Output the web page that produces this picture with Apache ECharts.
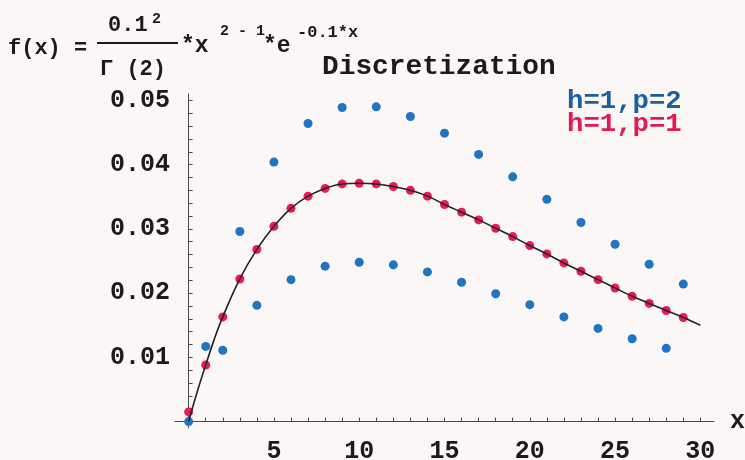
<!DOCTYPE html>
<html>
<head>
<meta charset="utf-8">
<script src="https://cdn.jsdelivr.net/npm/echarts@6/dist/echarts.min.js"></script>
<style>
html, body { margin: 0; padding: 0; background: #fbf7f6; }
#chart { width: 745px; height: 460px; }
</style>
</head>
<body>
<div id="chart"></div>
<script>
// discrete points at integer x
const xValues = [0, 1, 2, 3, 4, 5, 6, 7, 8, 9, 10, 11, 12, 13, 14, 15, 16, 17, 18, 19, 20, 21, 22, 23, 24, 25, 26, 27, 28, 29]
// h=1, p=2 (blue, alternating)
const blueValues = [0, 0.0117, 0.0111, 0.0296, 0.0181, 0.0404, 0.0221, 0.0464, 0.0242, 0.0489,
  0.0248, 0.0490, 0.0244, 0.0475, 0.0233, 0.0449, 0.0217, 0.0416, 0.0199, 0.0381,
  0.0182, 0.0346, 0.0163, 0.0310, 0.0145, 0.0276, 0.0129, 0.0245, 0.0114, 0.0214]
// h=1, p=1 (red)
const redValues = [0.0015, 0.0088, 0.0163, 0.0222, 0.0268, 0.0304, 0.0332, 0.0351, 0.0363, 0.0370,
  0.0371, 0.0370, 0.0366, 0.0360, 0.0351, 0.0338, 0.0326, 0.0314, 0.0301, 0.0288,
  0.0274, 0.0261, 0.0247, 0.0234, 0.0221, 0.0208, 0.0195, 0.0184, 0.0173, 0.0162]
// continuous density f(x)
const curveX = [0, 0.5, 1, 1.5, 2, 3, 4, 5, 6, 7, 8, 9, 10, 11, 12, 13, 14, 15, 16, 17, 18, 19, 20, 21, 22, 23, 24, 25, 26, 27, 28, 29, 30]
const curveY = [0, 0.0046, 0.0088, 0.0128, 0.0163, 0.0222, 0.0268, 0.0304, 0.0332, 0.0351, 0.0363, 0.0370,
  0.0371, 0.0370, 0.0366, 0.0360, 0.0351, 0.0338, 0.0326, 0.0314, 0.0301, 0.0288,
  0.0274, 0.0261, 0.0247, 0.0234, 0.0221, 0.0208, 0.0195, 0.0184, 0.0173, 0.0162, 0.0150]

const xLabels = [5, 10, 15, 20, 25, 30]
const xTicks = [0, 1, 2, 3, 4, 5, 6, 7, 8, 9, 10, 11, 12, 13, 14, 15, 16, 17, 18, 19, 20, 21, 22, 23, 24, 25, 26, 27, 28, 29, 30]
const yLabels = [0.01, 0.02, 0.03, 0.04, 0.05]
const yTicks = [0, 0.002, 0.004, 0.006, 0.008, 0.01, 0.012, 0.014, 0.016, 0.018, 0.02, 0.022, 0.024, 0.026, 0.028,
  0.03, 0.032, 0.034, 0.036, 0.038, 0.04, 0.042, 0.044, 0.046, 0.048, 0.05]

const mono = '"Liberation Mono", "DejaVu Sans Mono", monospace'
const ink = '#1b1b1b'

// text anchored at (x, middle y)
function txt (text, x, y, size, color, scaleX) {
  return {
    type: 'text',
    x: x,
    y: y,
    scaleX: scaleX || 1,
    style: {
      text: text,
      font: 'bold ' + size + 'px ' + mono,
      fill: color || ink,
      align: 'left',
      verticalAlign: 'middle'
    }
  }
}

const chart = echarts.init(document.getElementById('chart'))
chart.setOption({
  animation: false,
  backgroundColor: '#fbf7f6',
  grid: { left: 175, right: 31, top: 94, bottom: 32, containLabel: false, outerBoundsMode: 'none' },
  xAxis: {
    type: 'value',
    min: -0.8,
    max: 30.8,
    name: 'x',
    nameGap: 16,
    nameTextStyle: { fontFamily: mono, fontWeight: 'bold', fontSize: 25, color: ink, verticalAlign: 'middle' },
    axisLine: { lineStyle: { color: '#4a4a4a', width: 1 } },
    axisTick: { inside: true, length: 4, customValues: xTicks, lineStyle: { color: '#4a4a4a' } },
    axisLabel: { customValues: xLabels, margin: 11, fontFamily: mono, fontWeight: 'bold', fontSize: 25, color: ink },
    splitLine: { show: false }
  },
  yAxis: {
    type: 'value',
    min: -0.001,
    max: 0.051,
    axisLine: { lineStyle: { color: '#4a4a4a', width: 1 } },
    axisTick: { inside: true, length: 4, customValues: yTicks, lineStyle: { color: '#4a4a4a' } },
    axisLabel: {
      customValues: yLabels,
      margin: 5,
      fontFamily: mono,
      fontWeight: 'bold',
      fontSize: 25,
      color: ink,
      formatter: v => v.toFixed(2)
    },
    splitLine: { show: false }
  },
  series: [{
    type: 'scatter',
    name: 'h=1,p=2',
    data: xValues.map((x, i) => [x, blueValues[i]]),
    symbolSize: 9,
    itemStyle: { color: '#1f74c4', opacity: 1 },
    z: 2
  }, {
    type: 'scatter',
    name: 'h=1,p=1',
    data: xValues.map((x, i) => [x, redValues[i]]),
    symbolSize: 9,
    itemStyle: { color: '#e81a5c', opacity: 1 },
    z: 3
  }, {
    type: 'line',
    name: 'f(x)',
    data: curveX.map((x, i) => [x, curveY[i]]),
    showSymbol: false,
    smooth: 0.4,
    lineStyle: { color: '#222', width: 1.6 },
    z: 4
  }],
  graphic: [
    // formula
    txt('f(x) =', 8, 48, 22),
    txt('0.1', 108, 25, 22),
    txt('2', 152, 19, 15),
    { type: 'line', shape: { x1: 97, y1: 43, x2: 178, y2: 43 }, style: { stroke: ink, lineWidth: 2 } },
    txt('Γ (2)', 100, 69, 22),
    txt('*x', 181, 46, 23),
    txt('2 - 1', 220, 31, 15),
    txt('*e', 263, 46, 23),
    txt('-0.1*x', 297, 33, 17),
    // title
    txt('Discretization', 322, 67, 27, ink, 1.03),
    // legend text
    txt('h=1,p=2', 567, 101, 26, '#1a5fa6', 1.05),
    txt('h=1,p=1', 567, 124, 26, '#e21a5a', 1.05)
  ]
})
</script>
</body>
</html>
